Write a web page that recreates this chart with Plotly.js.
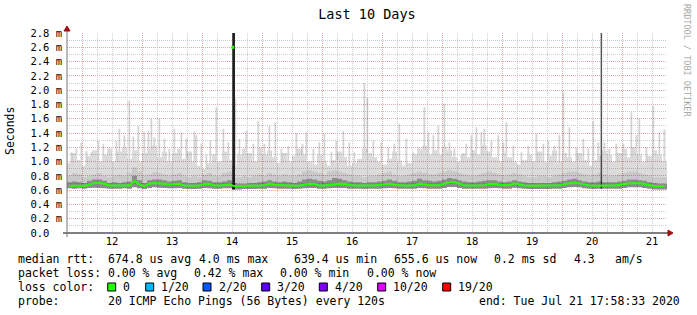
<!DOCTYPE html>
<html>
<head>
<meta charset="utf-8">
<script src="https://cdn.plot.ly/plotly-3.0.1.min.js"></script>
<style>
html,body{margin:0;padding:0;background:#fff;}
#chart{width:697px;height:315px;}
</style>
</head>
<body>
<div id="chart"></div>
<script>
// ---------- data (days of July 2020, values in ms) ----------
const startDay = 11.749;          // Jul 11 17:58:33
const stepDays = 2 / 24;          // 2 h consolidation step
const dayTicks = [12, 13, 14, 15, 16, 17, 18, 19, 20, 21];
const dayLabels = ["12", "13", "14", "15", "16", "17", "18", "19", "20", "21"];
const yTickVals = [0, 0.2, 0.4, 0.6, 0.8, 1.0, 1.2, 1.4, 1.6, 1.8, 2.0, 2.2, 2.4, 2.6, 2.8];
const yTickText = ["0.0\u00a0\u00a0", "0.2 m", "0.4 m", "0.6 m", "0.8 m", "1.0 m", "1.2 m", "1.4 m", "1.6 m", "1.8 m", "2.0 m", "2.2 m", "2.4 m", "2.6 m", "2.8 m"];

const medianRtt = [
  0.66,0.66,0.66,0.66,0.68,0.70,0.70,0.69,0.665,0.665,
  0.66,0.665,0.665,0.73,0.68,0.655,0.69,0.70,0.70,0.69,
  0.68,0.68,0.69,0.665,0.66,0.66,0.665,0.69,0.685,0.665,
  0.665,0.675,0.68,0.655,0.655,0.655,0.655,0.66,0.665,0.67,
  0.69,0.675,0.67,0.67,0.665,0.66,0.665,0.68,0.69,0.685,
  0.665,0.665,0.675,0.685,0.69,0.685,0.67,0.665,0.665,0.66,
  0.665,0.665,0.67,0.68,0.69,0.675,0.665,0.665,0.665,0.67,
  0.69,0.675,0.67,0.67,0.67,0.69,0.71,0.71,0.69,0.67,
  0.665,0.665,0.665,0.67,0.685,0.69,0.675,0.67,0.67,0.695,
  0.675,0.665,0.66,0.66,0.66,0.66,0.66,0.665,0.67,0.685,
  0.70,0.705,0.695,0.675,0.665,0.66,0.665,0.665,0.665,0.665,
  0.67,0.685,0.695,0.70,0.695,0.685,0.665,0.655,0.655,0.655
];
const minRtt = [
  0.625,0.62,0.625,0.62,0.63,0.635,0.63,0.625,0.62,0.62,
  0.62,0.625,0.62,0.64,0.625,0.615,0.63,0.64,0.635,0.63,
  0.625,0.625,0.63,0.62,0.615,0.615,0.62,0.63,0.625,0.62,
  0.62,0.625,0.625,0.61,0.61,0.615,0.615,0.615,0.62,0.62,
  0.63,0.625,0.62,0.62,0.62,0.615,0.62,0.625,0.63,0.63,
  0.62,0.62,0.625,0.63,0.63,0.63,0.62,0.62,0.62,0.615,
  0.62,0.62,0.62,0.625,0.63,0.625,0.62,0.62,0.62,0.62,
  0.63,0.625,0.62,0.62,0.62,0.63,0.645,0.645,0.63,0.62,
  0.62,0.62,0.62,0.62,0.625,0.63,0.625,0.62,0.62,0.635,
  0.625,0.62,0.615,0.615,0.615,0.615,0.615,0.62,0.62,0.63,
  0.64,0.645,0.64,0.625,0.62,0.615,0.62,0.62,0.62,0.62,
  0.62,0.63,0.64,0.64,0.64,0.63,0.62,0.61,0.61,0.61
];
const smokeBody = [
  0.98,1.12,1.02,0.94,1.08,1.16,1.0,1.1,1.18,1.0,
  1.14,1.2,1.04,1.16,1.0,1.12,1.18,1.22,1.06,1.14,
  1.0,1.12,1.18,1.04,1.14,1.0,0.94,0.9,0.98,1.1,
  1.0,1.14,1.02,0.94,1.1,1.18,1.12,1.0,1.2,1.1,
  1.16,1.06,0.98,1.12,1.0,1.08,1.18,1.1,1.0,0.96,
  1.1,1.0,0.94,1.02,1.14,1.06,0.94,0.98,1.04,1.18,
  1.12,1.06,1.0,0.96,1.04,1.14,1.02,0.94,0.98,1.1,
  1.18,1.22,1.1,1.16,1.1,1.2,1.16,1.06,1.0,1.12,
  1.06,1.16,1.1,1.22,1.14,1.06,1.0,1.12,1.06,1.0,
  0.96,1.02,1.1,1.0,1.14,1.0,1.08,1.16,1.0,1.12,
  1.06,1.0,1.12,1.02,0.94,1.02,1.08,1.16,1.1,1.0,
  1.12,1.18,1.06,1.2,1.1,1.0,1.08,1.16,1.1,1.0
];
const smokeMid = [
  0.80,0.84,0.82,0.78,0.80,0.82,0.84,0.80,0.78,0.80,
  0.82,0.80,0.84,0.92,0.86,0.80,0.82,0.85,0.84,0.82,
  0.80,0.82,0.84,0.80,0.78,0.80,0.78,0.82,0.84,0.80,
  0.80,0.84,0.86,0.78,0.78,0.80,0.78,0.80,0.82,0.80,
  0.84,0.82,0.80,0.82,0.80,0.80,0.82,0.86,0.88,0.86,
  0.84,0.82,0.86,0.88,0.86,0.84,0.82,0.80,0.80,0.78,
  0.80,0.80,0.82,0.84,0.86,0.82,0.80,0.80,0.82,0.84,
  0.86,0.84,0.82,0.82,0.84,0.86,0.88,0.86,0.84,0.82,
  0.80,0.80,0.82,0.84,0.86,0.84,0.82,0.80,0.82,0.84,
  0.82,0.80,0.78,0.78,0.80,0.80,0.78,0.80,0.82,0.84,
  0.86,0.86,0.84,0.82,0.80,0.82,0.84,0.82,0.80,0.80,
  0.82,0.84,0.86,0.86,0.84,0.82,0.80,0.78,0.78,0.78
];
const smokeDark = [
  0.71,0.72,0.71,0.70,0.73,0.75,0.75,0.73,0.70,0.71,
  0.70,0.71,0.72,0.80,0.74,0.70,0.74,0.75,0.75,0.74,
  0.72,0.73,0.74,0.71,0.70,0.70,0.71,0.74,0.73,0.71,
  0.71,0.72,0.74,0.70,0.69,0.69,0.70,0.70,0.71,0.72,
  0.74,0.72,0.71,0.72,0.71,0.70,0.72,0.75,0.76,0.75,
  0.73,0.72,0.74,0.77,0.76,0.74,0.72,0.71,0.71,0.70,
  0.71,0.71,0.72,0.73,0.75,0.73,0.71,0.71,0.72,0.73,
  0.76,0.74,0.73,0.72,0.73,0.75,0.77,0.76,0.74,0.72,
  0.71,0.71,0.72,0.73,0.74,0.74,0.72,0.71,0.72,0.74,
  0.72,0.71,0.70,0.70,0.70,0.70,0.70,0.71,0.72,0.73,
  0.75,0.76,0.74,0.72,0.71,0.71,0.72,0.71,0.71,0.71,
  0.72,0.73,0.75,0.75,0.74,0.73,0.71,0.70,0.69,0.69
];
// individual slow pings (thin light-grey spikes)
const spikeDay = [
  11.822,11.905,11.988,12.072,12.155,12.272,12.355,12.455,12.572,12.622,12.705,12.788,12.855,12.938,
  13.038,13.105,13.155,13.205,13.288,13.372,13.455,13.538,13.655,13.738,13.872,13.905,13.988,
  14.072,14.138,14.238,14.355,14.438,14.555,14.622,14.738,14.855,14.938,
  15.038,15.122,15.222,15.322,15.438,15.572,15.672,15.738,15.855,15.955,
  16.038,16.155,16.238,16.355,16.455,16.538,16.705,16.755,16.855,16.988,
  17.105,17.205,17.288,17.405,17.522,17.605,17.705,17.772,17.855,17.938,
  18.038,18.122,18.205,18.322,18.405,18.488,18.572,18.655,18.705,18.822,18.938,
  19.022,19.072,19.188,19.322,19.438,19.572,19.688,19.772,19.872,19.955,
  20.022,20.122,20.238,20.355,20.438,20.522,20.605,20.705,20.788,20.905,
  21.022,21.155,21.238,21.288,21.405,21.522,21.622,21.705
];
const spikeMax = [
  1.13,1.18,1.27,1.15,1.13,1.29,1.25,1.2,1.29,1.46,1.37,1.85,1.35,1.5,
  1.42,1.43,1.6,1.34,1.6,1.32,1.18,1.46,1.41,1.32,1.42,1.37,1.25,
  1.1,1.3,1.76,1.46,1.27,1.88,1.32,1.43,1.25,1.57,
  1.25,1.5,1.55,1.18,1.22,1.4,1.25,1.41,1.18,1.27,
  1.39,1.13,1.29,1.43,1.27,1.13,2.1,1.9,1.29,1.27,
  1.2,1.25,1.53,1.32,1.13,1.2,1.76,1.41,1.37,1.5,
  1.81,1.27,1.18,1.1,1.25,1.37,1.48,1.41,1.46,1.29,1.37,
  1.27,1.55,1.22,1.13,1.22,1.39,1.25,1.29,1.22,1.37,
  1.97,1.48,1.2,1.32,1.18,1.57,1.27,1.27,1.18,1.25,
  1.25,1.69,1.37,1.6,1.2,1.78,1.41,1.45
];
// outlier bursts (dark vertical bars)
const burstDay = [14.526, 20.655];
const burstMax = [4.0, 4.0];
const medianPeakDay = [14.512];
const medianPeakVal = [2.6];

// ---------- geometry helpers (layout only) ----------
const L = 67, PW = 600, T = 33, PH = 200;
const px = v => (v - L) / PW;
const py = v => (T + PH - v) / PH;

const N = medianRtt.length;
const edgesX = [];
for (let i = 0; i <= N; i++) edgesX.push(startDay + i * stepDays);
const centerX = medianRtt.map((_, i) => startDay + (i + 0.5) * stepDays);
const ext = a => a.concat([a[a.length - 1]]);
const idxOf = d => Math.max(0, Math.min(N - 1, Math.floor((d - startDay) / stepDays)));

const spikeBase = spikeDay.map(d => smokeBody[idxOf(d)]);
const spikeLen = spikeMax.map((v, k) => Math.max(0, v - spikeBase[k]));
const burstBase = burstDay.map(d => minRtt[idxOf(d)]);
const burstLen = burstMax.map((v, k) => v - burstBase[k]);

function band(lower, upper, color) {
  return [
    {x: edgesX, y: ext(lower), type: 'scatter', mode: 'lines', line: {width: 0, shape: 'hv'}, hoverinfo: 'skip'},
    {x: edgesX, y: ext(upper), type: 'scatter', mode: 'lines', line: {width: 0, shape: 'hv'}, fill: 'tonexty', fillcolor: color, hoverinfo: 'skip'}
  ];
}

const traces = [
  {type: 'bar', x: spikeDay, base: spikeBase, y: spikeLen, width: 0.03,
   marker: {color: 'rgba(0,0,0,0.17)', line: {width: 0}}, hoverinfo: 'skip'},
  ...band(minRtt, smokeBody, 'rgba(0,0,0,0.14)'),
  ...band(minRtt, smokeMid, 'rgba(0,0,0,0.08)'),
  ...band(minRtt, smokeDark, 'rgba(0,0,0,0.30)'),
  {type: 'scatter', mode: 'lines', x: centerX, y: medianRtt, line: {color: '#26ff00', width: 2}, hoverinfo: 'skip'},
  {type: 'bar', x: [burstDay[0]], base: [burstBase[0]], y: [burstLen[0]], width: 0.045,
   marker: {color: '#1e1e1e', line: {width: 0}}, hoverinfo: 'skip'},
  {type: 'bar', x: [burstDay[1]], base: [burstBase[1]], y: [burstLen[1]], width: 0.025,
   marker: {color: '#555555', line: {width: 0}}, hoverinfo: 'skip'},
  {type: 'scatter', mode: 'markers', x: medianPeakDay, y: medianPeakVal,
   marker: {symbol: 'square', size: 3, color: '#26ff00'}, hoverinfo: 'skip'}
];

const MONO = 'DejaVu Sans Mono, monospace';
const ann = [];
function txt(x, y, s, size, extra) {
  ann.push(Object.assign({xref: 'paper', yref: 'paper', x: px(x), y: py(y), text: s.replace(/ /g, '\u00a0'),
    showarrow: false, xanchor: 'left', yanchor: 'middle', borderpad: 0,
    font: {family: MONO, size: size || 11.5, color: '#000'}}, extra || {}));
}
// legend block
const LY = [259, 273, 287, 301];
txt(16.7, LY[0], 'median rtt:');
txt(107.3, LY[0], '674.8 us avg');
txt(198.3, LY[0], '4.0 ms max');
txt(293.3, LY[0], '639.4 us min');
txt(393.3, LY[0], '655.6 us now');
txt(493.3, LY[0], '0.2 ms sd');
txt(573.3, LY[0], '4.3');
txt(614.3, LY[0], 'am/s');
txt(16.7, LY[1], 'packet loss:');
txt(107.3, LY[1], '0.00 % avg');
txt(193.3, LY[1], '0.42 % max');
txt(279.3, LY[1], '0.00 % min');
txt(365.7, LY[1], '0.00 % now');
txt(16.7, LY[2], 'loss color:');
const lossLabels = ['0', '1/20', '2/20', '3/20', '4/20', '10/20', '19/20'];
const lossColors = ['#26ff00', '#00b8ff', '#0059ff', '#5e00ff', '#7e00ff', '#dd00ff', '#ff0000'];
const boxX = [107.7, 145.7, 203, 261.7, 319.3, 377.7, 442.7];
const shapes = [];
lossLabels.forEach((lab, k) => {
  shapes.push({type: 'rect', xref: 'paper', yref: 'paper', x0: px(boxX[k]), x1: px(boxX[k] + 8),
    y0: py(291), y1: py(283), fillcolor: lossColors[k], line: {color: '#000', width: 1}});
  txt(boxX[k] + 14.5, LY[2], lab);
});
txt(16.7, LY[3], 'probe:');
txt(107.3, LY[3], '20 ICMP Echo Pings (56 Bytes) every 120s');
txt(478.3, LY[3], 'end: Tue Jul 21 17:58:33 2020');
// side texts
ann.push({xref: 'paper', yref: 'paper', x: px(10), y: py(131), text: 'Seconds', textangle: -90, showarrow: false,
  xanchor: 'center', yanchor: 'middle', font: {family: MONO, size: 11.5, color: '#000'}});
ann.push({xref: 'paper', yref: 'paper', x: px(687), y: py(60), text: 'RRDTOOL / TOBI OETIKER', textangle: 90, showarrow: false,
  xanchor: 'center', yanchor: 'middle', font: {family: MONO, size: 8.5, color: '#a8a8a8'}});

// axis extensions and arrow heads
shapes.push({type: 'line', xref: 'paper', yref: 'paper', x0: px(63), x1: px(670), y0: py(233), y1: py(233), line: {color: '#000', width: 1}});
shapes.push({type: 'line', xref: 'paper', yref: 'paper', x0: px(67), x1: px(67), y0: py(237), y1: py(29), line: {color: '#777', width: 1}});
shapes.push({type: 'path', xref: 'paper', yref: 'paper',
  path: `M ${px(668)} ${py(230)} L ${px(673)} ${py(233)} L ${px(668)} ${py(236)} Z`, fillcolor: '#a01010', line: {color: '#a01010', width: 1}});
shapes.push({type: 'path', xref: 'paper', yref: 'paper',
  path: `M ${px(64)} ${py(31)} L ${px(67)} ${py(26)} L ${px(70)} ${py(31)} Z`, fillcolor: '#a01010', line: {color: '#a01010', width: 1}});

const layout = {
  width: 697, height: 315,
  margin: {l: L, r: 697 - L - PW, t: T, b: 315 - T - PH, pad: 0},
  paper_bgcolor: '#fff', plot_bgcolor: '#fff',
  showlegend: false, barmode: 'overlay',
  title: {text: 'Last 10 Days', font: {family: MONO, size: 13.5, color: '#000'},
    x: 0.5, xref: 'paper', xanchor: 'center', y: 1 - 14 / 315, yanchor: 'middle'},
  xaxis: {
    range: [startDay, startDay + 10], tickmode: 'array', tickvals: dayTicks, ticktext: dayLabels,
    ticklabelshift: 30, ticks: '', showline: false, zeroline: false,
    showgrid: true, gridcolor: '#e4a8a8', griddash: '1px,1px', gridwidth: 1,
    minor: {tickmode: 'linear', tick0: 12, dtick: 0.25, showgrid: true, gridcolor: '#cdcdcd', griddash: '1px,1px', gridwidth: 1, ticks: ''},
    tickfont: {family: MONO, size: 10.5, color: '#000'}, fixedrange: true
  },
  yaxis: {
    range: [0, 2.8], tickmode: 'array', tickvals: yTickVals, ticktext: yTickText,
    ticks: '', showline: false, zeroline: false,
    showgrid: true, gridcolor: '#e4a8a8', griddash: '1px,1px', gridwidth: 1,
    minor: {tickmode: 'linear', tick0: 0, dtick: 0.1, showgrid: true, gridcolor: '#cdcdcd', griddash: '1px,1px', gridwidth: 1, ticks: ''},
    tickfont: {family: MONO, size: 10.5, color: '#000'}, ticklabelstandoff: 4, fixedrange: true
  },
  annotations: ann,
  shapes: shapes
};

Plotly.newPlot('chart', traces, layout, {staticPlot: true, displayModeBar: false});
</script>
</body>
</html>
